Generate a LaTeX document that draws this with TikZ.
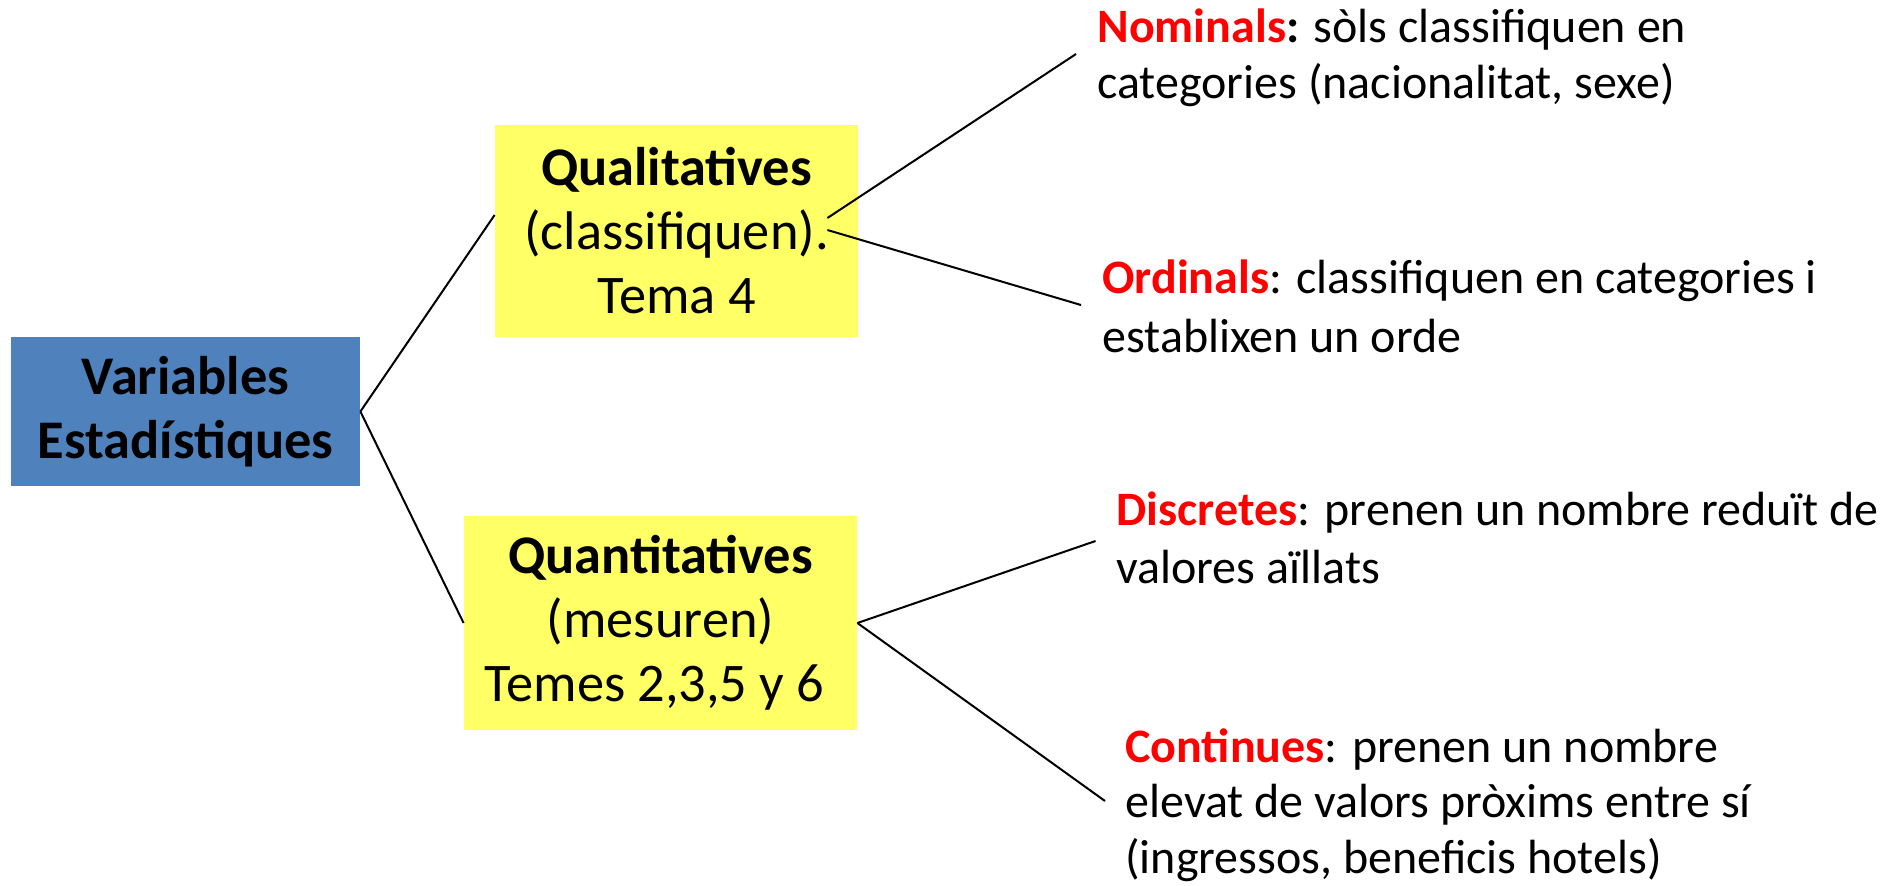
\documentclass[tikz,border=0pt]{standalone}
\usepackage{fontspec}
\setmainfont{Carlito}
\usetikzlibrary{calc}
\definecolor{boxblue}{HTML}{4F81BD}
\definecolor{boxyellow}{HTML}{FFFF66}
\definecolor{lblred}{HTML}{FF0000}
\tikzset{
  mainbox/.style={fill=boxblue, draw=none, align=center, inner sep=0pt,
    font=\fontsize{27.2}{32}\selectfont\bfseries},
  typebox/.style={fill=boxyellow, draw=none, align=center, inner sep=0pt,
    font=\fontsize{27.2}{32}\selectfont},
  desc/.style={anchor=base west, inner sep=0pt, font=\fontsize{24}{#1}\selectfont},
  desc/.default=28pt,
  link/.style={draw=black, line width=1pt},
}
\newcommand{\kw}[1]{\textcolor{lblred}{\textbf{#1}}}
\begin{document}
\begin{tikzpicture}[x=0.5pt,y=-0.5pt]
\useasboundingbox (0,0) rectangle (1898,885);

\node[mainbox, minimum width=174.5pt, minimum height=74.5pt] (var) at (185.5,411.5) {Variables\\Estadístiques};
\node[typebox, minimum width=181.5pt, minimum height=106pt] (qual) at (676.5,231) {\textbf{Qualitatives}\\(classifiquen).\\Tema 4};
\node[typebox, minimum width=196.5pt, minimum height=107pt] (quant) at (660.5,623) {\textbf{Quantitatives}\\(mesuren)\\Temes 2,3,5 y 6\kern6pt};

\node[desc=28pt] (nom) at (1097,42) {\begin{tabular}[t]{@{}l@{}}\kw{Nominals}\textbf{:} sòls classifiquen en\\categories (nacionalitat, sexe)\end{tabular}};
\node[desc=29.5pt] (ord) at (1102,293) {\begin{tabular}[t]{@{}l@{}}\kw{Ordinals}: classifiquen en categories i\\establixen un orde\end{tabular}};
\node[desc=29pt] (dis) at (1116,525) {\begin{tabular}[t]{@{}l@{}}\kw{Discretes}: prenen un nombre reduït de\\valores aïllats\end{tabular}};
\node[desc=27.75pt] (con) at (1125,762) {\begin{tabular}[t]{@{}l@{}}\kw{Continues}: prenen un nombre\\elevat de valors pròxims entre sí\\(ingressos, beneficis hotels)\end{tabular}};

\coordinate (qualin) at ($(qual.west)+(0,-16)$);
\coordinate (qualo1) at ($(qual.east)+(-31,-13)$);
\coordinate (qualo2) at ($(qual.east)+(-31,-1)$);
\coordinate (nomin) at ($(nom.base west)+(-21,12)$);
\coordinate (ordin) at ($(ord.base west)+(-21,12)$);
\coordinate (disin) at ($(dis.base west)+(-20.5,16)$);
\coordinate (conin) at ($(con.base west)+(-20,39)$);

\draw[link] (var.east) -- (qualin);
\draw[link] (var.east) -- (quant.west);
\draw[link] (qualo1) -- (nomin);
\draw[link] (qualo2) -- (ordin);
\draw[link] (quant.east) -- (disin);
\draw[link] (quant.east) -- (conin);
\end{tikzpicture}
\end{document}
